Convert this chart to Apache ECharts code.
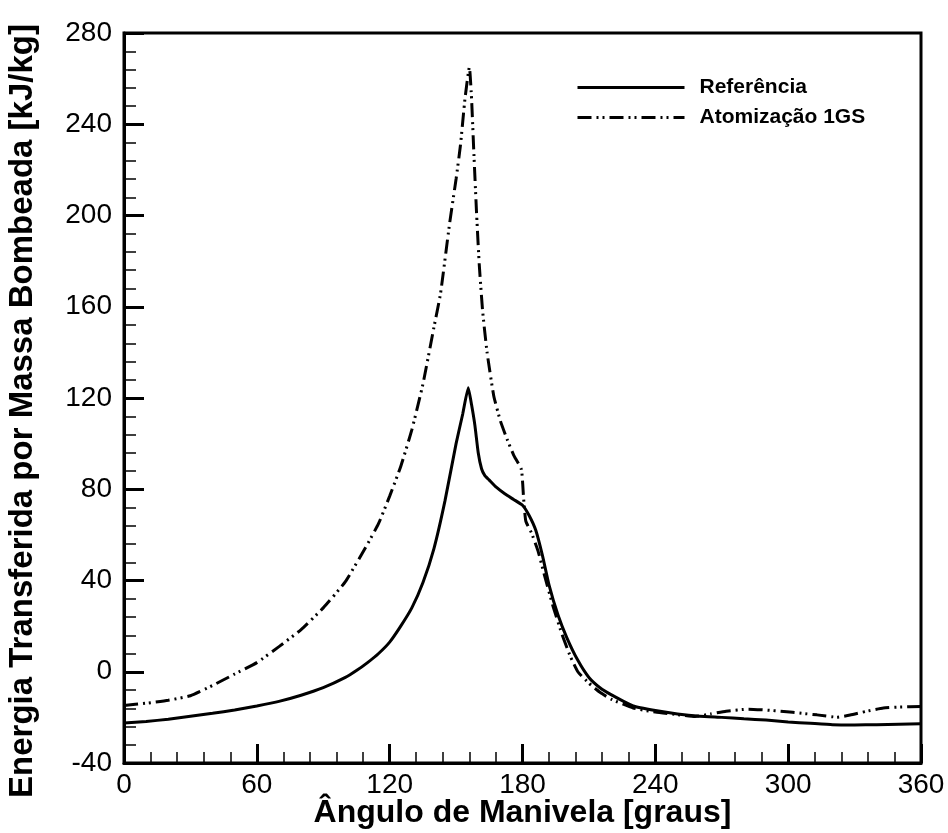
<!DOCTYPE html>
<html>
<head>
<meta charset="utf-8">
<script src="https://cdn.jsdelivr.net/npm/echarts@6/dist/echarts.min.js"></script>
<style>html,body{margin:0;padding:0;background:#fff}#c{width:948px;height:833px}</style>
</head>
<body>
<div id="c"></div>
<script>
var refAngles = [0,10,20,30,40,50,60,70,80,90,100,105,110,115,120,125,130,135,140,145,150,153,155.5,157,158.5,160,161.5,163,165,168,172,176,180,183,186,189,192,196,200,205,210,215,220,230,240,250,260,270,280,290,300,310,320,330,340,350,360];
var refValues = [-22.5,-21.8,-20.8,-19.5,-18.2,-16.8,-15,-13,-10.3,-7,-2.5,0.5,4,8,13,20,28,39,54,75,100,113,124.5,117,108,96,89,86,84,81,78,75.5,73,68.5,62,51,38,25,15,5,-2.5,-7,-10,-15,-17,-18.5,-19.5,-20,-20.6,-21.2,-22,-22.6,-23.2,-23.3,-23.2,-23,-22.8];

var atoAngles = [0,10,20,30,40,50,60,70,80,90,100,110,115,120,125,130,135,140,143,147,150,152,154,156,157,158,159.3,160.5,162,164,167,170,173,176,179.5,180.5,181.5,184,187,190,194,198,201.5,205,210,215,220,230,240,250,258,265,272,282,290,298,306,313,322,328,335,343,350,360];
var atoValues = [-14.8,-13.8,-12.5,-10.5,-6,-1,4,11,18.5,28,39.5,56,65,77,90,106,126,151,166,196,216,231,251,265,251,228,200,178,158,140,121,110,102,95,88.6,76,66,61,53,42,28,16,7,0,-5,-9,-12,-15.9,-17.7,-18.8,-19.6,-18.5,-17.3,-16.4,-16.8,-17.4,-18.2,-18.9,-19.9,-19,-17.4,-15.9,-15.5,-15.2];

var xTicks = {min: 0, max: 360, interval: 60};
var yTicks = {min: -40, max: 280, interval: 40};

function pairs(xs, ys){ return xs.map(function(x,i){ return [x, ys[i]]; }); }

var chart = echarts.init(document.getElementById('c'));
var font = 'Liberation Sans, Arial, sans-serif';
chart.setOption({
  backgroundColor: '#fff',
  animation: false,
  grid: {left:124, right:27, top:33, bottom:70, show:true, borderColor:'#000', borderWidth:3, containLabel:false, outerBoundsMode:'none'},
  legend: {
    orient:'vertical', left:576, top:77, padding:0, itemWidth:107, itemHeight:14, itemGap:9,
    itemStyle:{opacity:0},
    lineStyle:{width:3},
    textStyle:{fontFamily:font, fontWeight:'bold', fontSize:21, color:'#000', padding:[0,0,0,10]},
    data:['Referência','Atomização 1GS']
  },
  xAxis: {
    type:'value', min:xTicks.min, max:xTicks.max, interval:xTicks.interval,
    name:'Ângulo de Manivela [graus]', nameLocation:'middle', nameGap:34, nameMoveOverlap:false,
    nameTextStyle:{fontFamily:font, fontWeight:'bold', fontSize:32, color:'#000', verticalAlign:'top'},
    axisLine:{show:true, onZero:false, lineStyle:{color:'#000', width:3}},
    axisTick:{show:true, inside:true, length:19, lineStyle:{color:'#000', width:3}},
    minorTick:{show:true, splitNumber:5, length:11, lineStyle:{color:'#000', width:1.5}},
    axisLabel:{fontFamily:font, fontSize:28, color:'#000', margin:8},
    splitLine:{show:false}
  },
  yAxis: {
    type:'value', min:yTicks.min, max:yTicks.max, interval:yTicks.interval,
    name:'Energia Transferida por Massa Bombeada [kJ/kg]', nameLocation:'middle', nameGap:85, nameMoveOverlap:false,
    nameTextStyle:{fontFamily:font, fontWeight:'bold', fontSize:33, color:'#000', padding:[0,26,0,0]},
    axisLine:{show:true, onZero:false, lineStyle:{color:'#000', width:3}},
    axisTick:{show:true, inside:true, length:20, lineStyle:{color:'#000', width:3}},
    minorTick:{show:true, splitNumber:5, length:12, lineStyle:{color:'#000', width:1.5}},
    axisLabel:{fontFamily:font, fontSize:28, color:'#000', margin:12},
    splitLine:{show:false}
  },
  series: [
    {name:'Referência', type:'line', data:pairs(refAngles, refValues), showSymbol:false, symbol:'none',
     smooth:0.15, lineStyle:{color:'#000', width:3, type:'solid'}, itemStyle:{color:'#000'}},
    {name:'Atomização 1GS', type:'line', data:pairs(atoAngles, atoValues), showSymbol:false, symbol:'none',
     smooth:0.15, lineStyle:{color:'#000', width:3, type:[14,5,2,4,2,5], cap:'butt'}, itemStyle:{color:'#000'}}
  ]
});
</script>
</body>
</html>
